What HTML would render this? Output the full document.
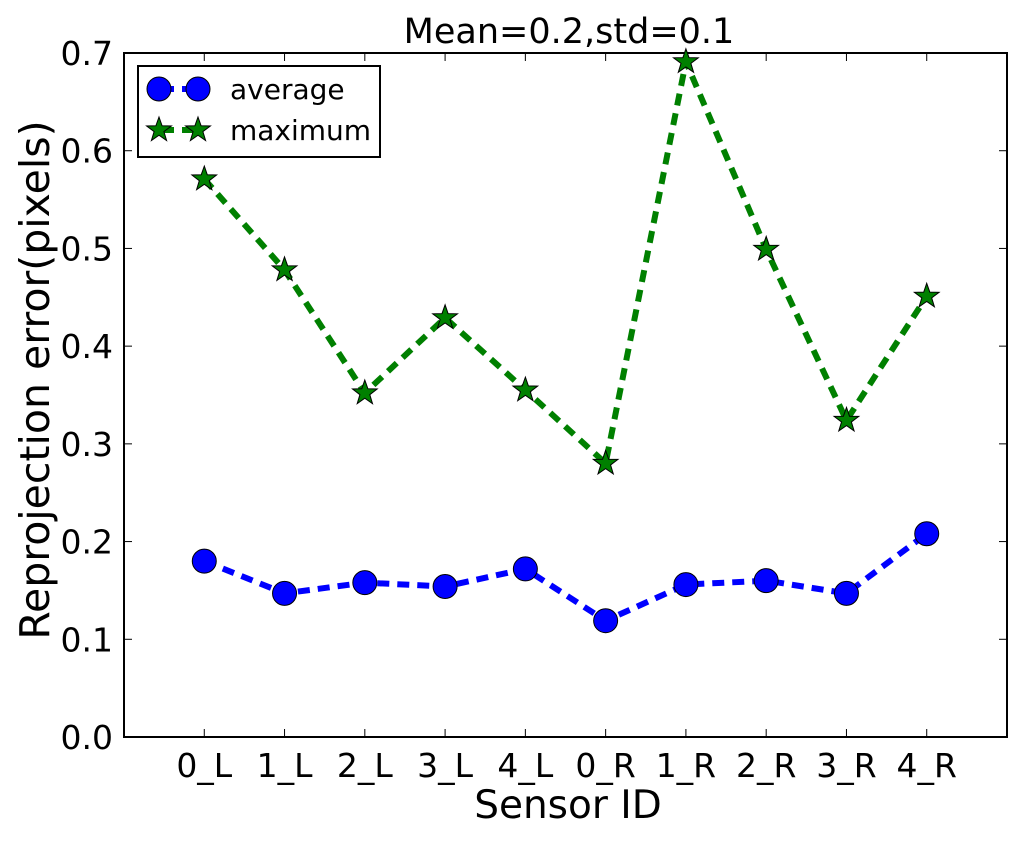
<!DOCTYPE html>
<html><head><meta charset="utf-8"><style>
body{margin:0;background:#fff}
svg text{font-family:"DejaVu Sans","Liberation Sans",sans-serif;fill:#000}
</style></head><body>
<svg id="chart" width="1024" height="836">
<text x="569" y="43" font-size="35" text-anchor="middle">Mean=0.2,std=0.1</text>
<text x="568" y="818" font-size="39" text-anchor="middle">Sensor ID</text>
<text transform="translate(49,380) rotate(-90)" font-size="41" text-anchor="middle">Reprojection error(pixels)</text>
<g id="axes"></g>
<g id="series"></g>
<g>
<rect x="138" y="66" width="242" height="91" fill="#fff" stroke="#000" stroke-width="2"/>
<line x1="162" y1="89" x2="198" y2="89" stroke="#0000ff" stroke-width="6" stroke-dasharray="12,8"/>
<circle cx="159" cy="89" r="12" fill="#0000ff" stroke="#000" stroke-width="1"/>
<circle cx="198" cy="89" r="12" fill="#0000ff" stroke="#000" stroke-width="1"/>
<text x="230" y="99" font-size="28">average</text>
<line x1="162" y1="130" x2="198" y2="130" stroke="#008000" stroke-width="6" stroke-dasharray="12,8"/>
<g id="legstar"></g>
<text x="230" y="140" font-size="28">maximum</text>
</g>
</svg>
<script>
const categories=["0_L","1_L","2_L","3_L","4_L","0_R","1_R","2_R","3_R","4_R"];
const averageValues=[0.180,0.147,0.158,0.154,0.172,0.119,0.156,0.160,0.147,0.208];
const maximumValues=[0.571,0.478,0.352,0.429,0.355,0.280,0.691,0.499,0.324,0.451];
const yTicks=[0,0.1,0.2,0.3,0.4,0.5,0.6,0.7];
const yTickLabels=["0.0","0.1","0.2","0.3","0.4","0.5","0.6","0.7"];
const L=124,R=1007,T=53,B=737;
const xs=i=>L+(i+1)*(R-L)/11;
const ys=v=>B-v/0.7*(B-T);
const NS="http://www.w3.org/2000/svg";
function mk(tag,attrs,parent){const e=document.createElementNS(NS,tag);for(const k in attrs)e.setAttribute(k,attrs[k]);parent.appendChild(e);return e;}
const ax=document.getElementById('axes'),se=document.getElementById('series');
const frame=mk('rect',{x:L,y:T,width:R-L,height:B-T,fill:'none',stroke:'#000','stroke-width':2},ax);


yTicks.forEach((v,i)=>{const y=ys(v);
mk('line',{x1:L,y1:y,x2:L+8,y2:y,stroke:'#000','stroke-width':1},ax);
mk('line',{x1:R,y1:y,x2:R-8,y2:y,stroke:'#000','stroke-width':1},ax);
const t=mk('text',{x:L-11,y:y+12,'font-size':33,'text-anchor':'end'},ax);t.textContent=yTickLabels[i];

});
categories.forEach((c,i)=>{const x=xs(i);
mk('line',{x1:x,y1:B,x2:x,y2:B-8,stroke:'#000','stroke-width':1},ax);
mk('line',{x1:x,y1:T,x2:x,y2:T+8,stroke:'#000','stroke-width':1},ax);
const t=mk('text',{x:x,y:B+40,'font-size':33,'text-anchor':'middle'},ax);t.textContent=c;

});
function star(cx,cy,r){let p=[];for(let k=0;k<10;k++){const a=-Math.PI/2+k*Math.PI/5,rr=k%2?r*0.4:r;p.push((cx+rr*Math.cos(a)).toFixed(1)+','+(cy+rr*Math.sin(a)).toFixed(1));}return p.join(' ');}
function line(vals,color,name){
const l=mk('polyline',{points:vals.map((v,i)=>xs(i)+','+ys(v)).join(' '),fill:'none',stroke:color,'stroke-width':6,'stroke-dasharray':'12,8'},se);

}
line(maximumValues,'#008000','maximum');
line(averageValues,'#0000ff','average');
maximumValues.forEach((v,i)=>{const s=mk('polygon',{points:star(xs(i),ys(v),13),fill:'#008000',stroke:'#000','stroke-width':1},se);

});
averageValues.forEach((v,i)=>{const c=mk('circle',{cx:xs(i),cy:ys(v),r:12,fill:'#0000ff',stroke:'#000','stroke-width':1},se);

});
const lg=document.getElementById('legstar');
[159,198].forEach(x=>{const s=mk('polygon',{points:star(x,130,13),fill:'#008000',stroke:'#000','stroke-width':1},lg);

});
</script>
</body></html>
